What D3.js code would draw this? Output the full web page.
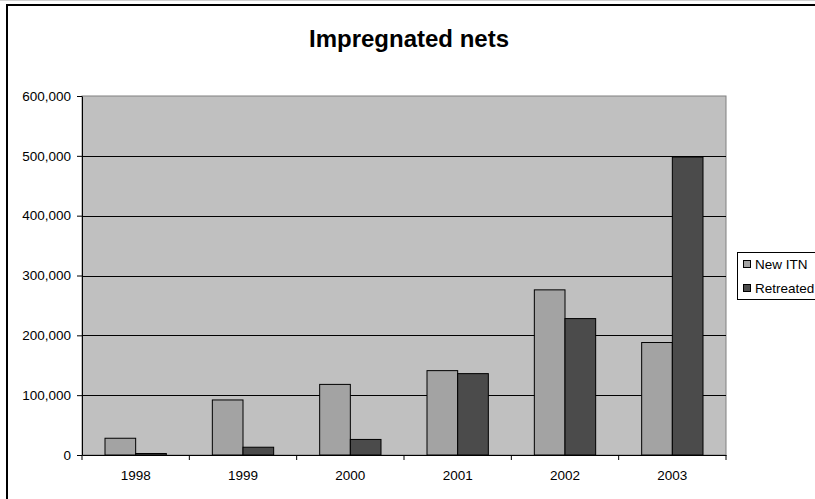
<!DOCTYPE html>
<html><head><meta charset="utf-8">
<script src="https://cdn.jsdelivr.net/npm/d3@7"></script>
<style>body{margin:0;background:#fff;}svg{display:block;font-family:Arial,"Liberation Sans",sans-serif;}</style>
</head><body>
<svg id="c" width="815" height="499"></svg>
<script>
const years = ["1998","1999","2000","2001","2002","2003"];
const seriesNames = ["New ITN","Retreated"];
const newITN = [28000, 92000, 118000, 141000, 276000, 188000];
const retreated = [2500, 13000, 26000, 136000, 228000, 498000];
const yTicks = [0,100000,200000,300000,400000,500000,600000];
const title = "Impregnated nets";
const colors = ["#a3a3a3","#4b4b4b"];

const svg = d3.select("#c");
const L=82, R=726, T=96, B=455;

svg.append("line").attr("x1",0).attr("x2",815).attr("y1",0.5).attr("y2",0.5).attr("stroke","#d0d0d0");
svg.append("rect").attr("x",7).attr("y",5).attr("width",812).attr("height",510)
  .attr("fill","#fff").attr("stroke","#000").attr("stroke-width",2);

svg.append("text").attr("x",409).attr("y",47).attr("text-anchor","middle")
  .attr("font-size",24).attr("font-weight","bold").text(title);

const x0 = d3.scaleBand().domain(years).range([L,R]).padding(0);
const x1 = d3.scaleBand().domain(seriesNames).range([0,x0.bandwidth()]).paddingInner(0).paddingOuter(0.75);
const y = d3.scaleLinear().domain([0,600000]).range([B,T]);

svg.append("rect").attr("x",L).attr("y",T).attr("width",R-L).attr("height",B-T)
  .attr("fill","#c0c0c0").attr("stroke","#808080").attr("stroke-width",1);

svg.append("g").selectAll("line").data(yTicks.filter(d=>d>0 && d<600000)).join("line")
  .attr("x1",L).attr("x2",R).attr("y1",d=>Math.round(y(d))+0.5).attr("y2",d=>Math.round(y(d))+0.5)
  .attr("stroke","#000").attr("stroke-width",1);

const data = years.map((yr,i)=>({yr, vals:[newITN[i], retreated[i]]}));
const g = svg.append("g");
data.forEach(d=>{
  d.vals.forEach((v,j)=>{
    g.append("rect")
      .attr("x", x0(d.yr)+x1(seriesNames[j]))
      .attr("y", y(v))
      .attr("width", x1.bandwidth())
      .attr("height", B - y(v))
      .attr("fill", colors[j]).attr("stroke","#000").attr("stroke-width",1);
  });
});

const yAxis = d3.axisLeft(y).tickValues(yTicks).tickSize(5).tickSizeOuter(0)
  .tickFormat(d3.format(","));
const ya = svg.append("g").attr("transform",`translate(${L},0)`).call(yAxis);
ya.selectAll("text").attr("font-size",13.5).attr("font-family","Arial,'Liberation Sans',sans-serif").attr("fill","#000").attr("x",-11);
ya.selectAll("line").attr("stroke","#000");
ya.select(".domain").attr("stroke","#000");

const xAxis = d3.axisBottom(x0).tickSize(0).tickSizeOuter(0);
const xa = svg.append("g").attr("transform",`translate(0,${B})`).call(xAxis);
xa.selectAll("text").attr("font-size",13.5).attr("font-family","Arial,'Liberation Sans',sans-serif").attr("fill","#000").attr("dy","1.6em");
xa.select(".domain").attr("stroke","#000");
svg.append("g").selectAll("line").data(d3.range(years.length+1)).join("line")
  .attr("x1",i=>L+i*x0.step()).attr("x2",i=>L+i*x0.step())
  .attr("y1",B).attr("y2",B+5).attr("stroke","#000");

const lg = svg.append("g");
lg.append("rect").attr("x",737.5).attr("y",252.5).attr("width",90).attr("height",47)
  .attr("fill","#fff").attr("stroke","#000");
seriesNames.forEach((s,i)=>{
  const cy = 264 + i*24;
  lg.append("rect").attr("x",743.5).attr("y",cy-3.5).attr("width",7).attr("height",7)
    .attr("fill",colors[i]).attr("stroke","#000");
  lg.append("text").attr("x",755).attr("y",cy).attr("dy","0.35em").attr("font-size",13.5).text(s);
});
</script>
</body></html>
